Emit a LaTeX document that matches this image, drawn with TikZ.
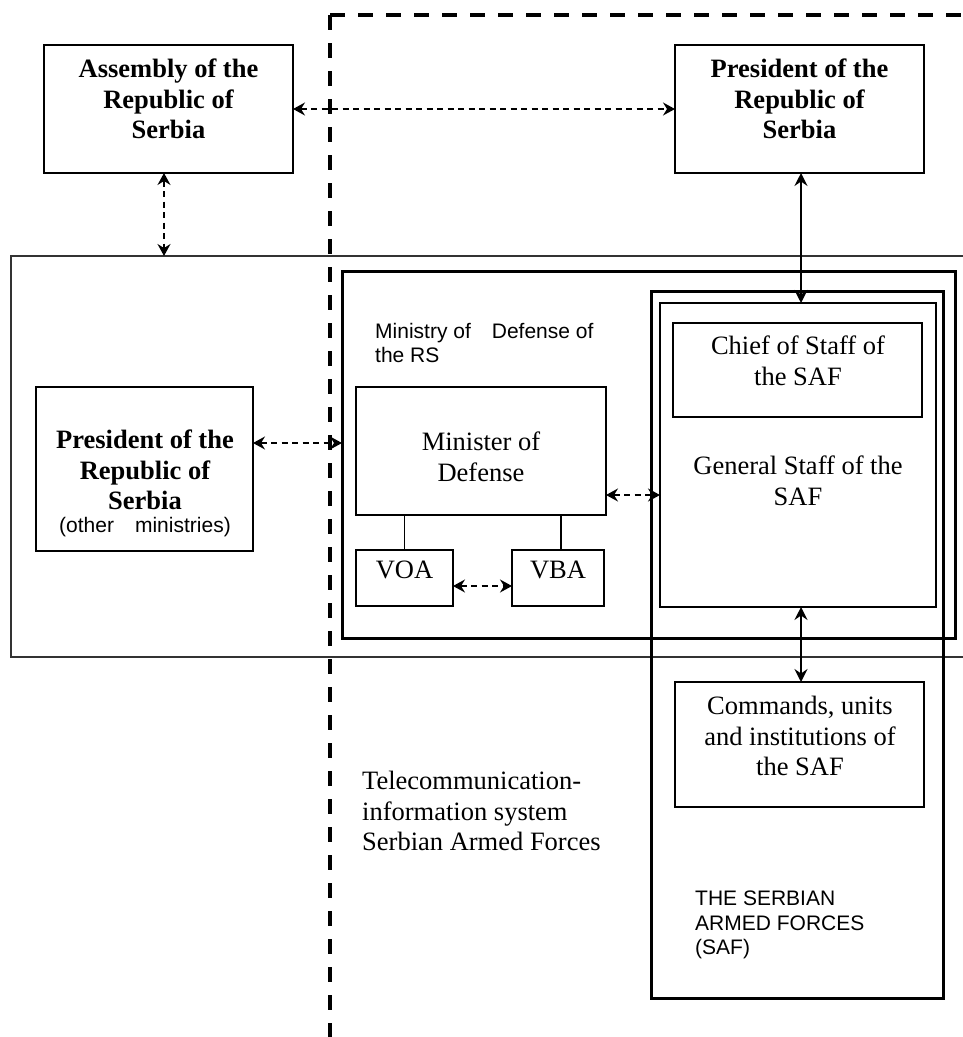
\documentclass[tikz,border=0pt]{standalone}
\usepackage{fontspec}
\setmainfont{Liberation Serif}
\setsansfont{Liberation Sans}
\usetikzlibrary{arrows.meta,calc}
\tikzset{>=Stealth}

\begin{document}
\begin{tikzpicture}[x=1pt,y=-1pt,
  box/.style={draw,rectangle,line width=2pt,inner sep=0pt,outer sep=0pt},
  thickbox/.style={box,line width=3pt},
  txt/.style={font={\fontsize{26.5}{30.5}\selectfont},align=center,inner sep=0pt},
  boldtxt/.style={font={\fontsize{26.5}{30.5}\selectfont\bfseries},align=center,inner sep=0pt},
  sanstxt/.style={font={\sffamily\fontsize{21}{24.5}\selectfont},align=left,inner sep=0pt},
  link/.style={<->,line width=1.4pt,dash pattern=on 6pt off 4.5pt,
    >={Stealth[length=12pt,width=13pt,inset=4pt]}},
  solidlink/.style={<->,line width=1.8pt,>={Stealth[length=13pt,width=13pt,inset=4.5pt]}},
  border/.style={line width=3.3pt,dash pattern=on 15pt off 13pt}]
\useasboundingbox (0,0) rectangle (962,1037);

% government frame and the system border
\node[box,line width=1.5pt,draw=black!80,minimum width=969pt,minimum height=401pt] (govt) at (495.5,456.5) {};
\coordinate (corner) at (330,15);
\draw[border] (corner) -- (985,15);
\draw[border] (corner) -- (330,1045);

% top row
\node[box,minimum width=249pt,minimum height=128pt] (assembly) at (168.5,109) {};
\node[boldtxt] (assemblyT) at (168.5,99) {Assembly of the\\Republic of\\Serbia};
\node[box,minimum width=249pt,minimum height=128pt] (presTop) at (799.5,109) {};
\node[boldtxt] (presTopT) at (799.5,99) {President of the\\Republic of\\Serbia};

% government
\node[box,minimum width=217pt,minimum height=164pt] (presLeft) at (144.5,469) {};
\node[boldtxt] (presLeftT) at (145,470) {President of the\\Republic of\\Serbia};
\node[sanstxt,anchor=base] (presLeftS) at (145,532) {(other\hspace{1em}ministries)};

\node[thickbox,minimum width=613pt,minimum height=367pt] (ministry) at (648.5,454.5) {};
\node[sanstxt,anchor=west] (ministryT) at (375,343) {Ministry of\hspace{1em}Defense of\\the RS};
\node[box,minimum width=250pt,minimum height=128pt] (minister) at (481,451) {};
\node[txt] (ministerT) at (481,457) {Minister of\\Defense};
\node[box,line width=1.6pt,minimum width=97pt,minimum height=56pt] (voa) at (404.5,578) {};
\node[txt,anchor=base] (voaT) at (404.5,578) {VOA};
\node[box,line width=1.6pt,minimum width=92pt,minimum height=56pt] (vba) at (558,578) {};
\node[txt,anchor=base] (vbaT) at (558,578) {VBA};

% armed forces
\node[thickbox,minimum width=292pt,minimum height=707pt] (saf) at (797,644.5) {};
\node[box,line width=2.5pt,minimum width=276pt,minimum height=304pt] (genStaff) at (798,455) {};
\node[box,line width=2.5pt,minimum width=249pt,minimum height=94pt] (chief) at (797.5,370) {};
\node[txt] (chiefT) at (798,361) {Chief of Staff of\\the SAF};
\node[txt] (genStaffT) at (798,481) {General Staff of the\\SAF};
\node[box,minimum width=249pt,minimum height=125pt] (commands) at (799.5,744.5) {};
\node[txt] (commandsT) at (800,736) {Commands, units\\and institutions of\\the SAF};
\node[sanstxt,anchor=west] (safT) at (695,925) {THE SERBIAN\\ARMED FORCES\\(SAF)};

\node[txt,align=left,anchor=west] (ticsT) at (362,811) {Telecommunication-\\information system\\Serbian Armed Forces};

% connections
\draw[link] (assembly.east) -- (presTop.west);
\draw[link] ([xshift=-4.5pt]assembly.south) -- ([xshift=-4.5pt]assembly.south |- govt.north);
\draw[link] (presLeft.east |- 0,443) -- (ministry.west |- 0,443);
\draw[link] (minister.east |- 0,495) -- (genStaff.west |- 0,495);
\draw[link] (voa.east |- 0,586) -- (vba.west |- 0,586);
\draw[line width=1.6pt] (voa.north |- minister.south) -- (voa.north);
\draw[line width=1.6pt] ([xshift=3pt]vba.north |- minister.south) -- ([xshift=3pt]vba.north);
\draw[solidlink] ([xshift=1.5pt]presTop.south) -- ([xshift=1.5pt]presTop.south |- genStaff.north);
\draw[solidlink] ([xshift=1.5pt]commands.north |- genStaff.south) -- ([xshift=1.5pt]commands.north);
\end{tikzpicture}
\end{document}
